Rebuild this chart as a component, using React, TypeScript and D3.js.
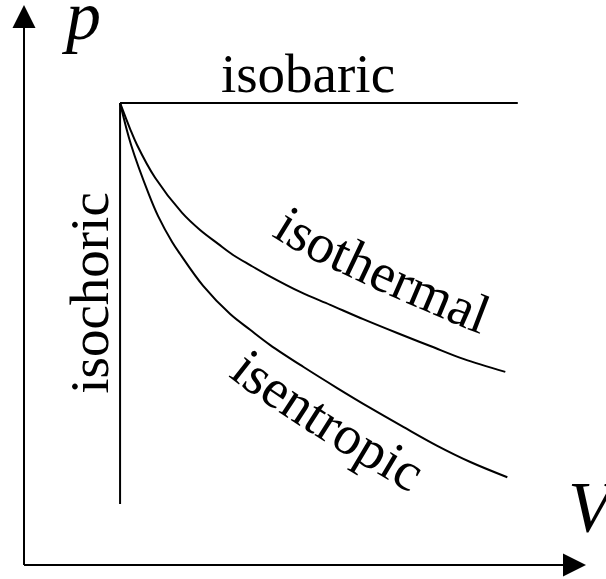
import React, { useEffect, useRef } from "react";
import * as d3 from "d3";

const WIDTH = 606;
const HEIGHT = 579;

// Volume / pressure samples (arbitrary units) along the two expansion curves
const isothermalV = [1.0, 1.104, 1.177, 1.365, 1.646, 1.833, 2.021, 2.177, 2.354, 2.531, 2.875, 3.188, 3.531, 3.885, 4.229, 4.573, 5.01];
const isothermalP = [10.0, 9.44, 9.09, 8.38, 7.62, 7.25, 6.95, 6.71, 6.49, 6.28, 5.91, 5.63, 5.32, 5.02, 4.74, 4.46, 4.18];
const isentropicV = [1.0, 1.115, 1.302, 1.396, 1.542, 1.625, 1.865, 2.146, 2.354, 2.563, 2.906, 3.26, 3.604, 3.948, 4.302, 4.646, 5.031];
const isentropicP = [10.0, 9.09, 8.01, 7.55, 6.99, 6.73, 6.04, 5.43, 5.09, 4.76, 4.29, 3.83, 3.4, 2.99, 2.58, 2.23, 1.9];

// Shared initial state and the ends of the straight processes
const startV = 1.0;
const startP = 10.0;
const isobaricEndV = 5.14;
const isochoricEndP = 1.32;

// Axis extents (arrow tips)
const axisMaxV = 5.85;
const axisMaxP = 12.12;

// Labels
const axisLabelP = "p";
const axisLabelV = "V";
const isobaricLabel = "isobaric";
const isochoricLabel = "isochoric";
const isothermalLabel = "isothermal";
const isentropicLabel = "isentropic";

const SERIF = '"Liberation Serif", "Times New Roman", Times, serif';

export default function App() {
  const ref = useRef<SVGSVGElement>(null);

  useEffect(() => {
    const svg = d3.select(ref.current);
    svg.selectAll("*").remove();

    const x = d3.scaleLinear().domain([0, axisMaxV]).range([24, 586]);
    const y = d3.scaleLinear().domain([0, axisMaxP]).range([565, 5]);

    const defs = svg.append("defs");
    const stroke = "#000";
    const sw = 2;

    // ---- axes with arrowheads ----
    const ax0 = x(0);
    const ay0 = y(0);
    const arrowLen = 23;
    const arrowHalf = 11.5;

    svg.append("line")
      .attr("x1", ax0).attr("y1", ay0)
      .attr("x2", ax0).attr("y2", y(axisMaxP) + arrowLen - 1)
      .attr("stroke", stroke).attr("stroke-width", sw);
    svg.append("path")
      .attr("d", `M${ax0},${y(axisMaxP)} L${ax0 - arrowHalf},${y(axisMaxP) + arrowLen} L${ax0 + arrowHalf},${y(axisMaxP) + arrowLen} Z`)
      .attr("fill", stroke);

    svg.append("line")
      .attr("x1", ax0).attr("y1", ay0)
      .attr("x2", x(axisMaxV) - arrowLen + 1).attr("y2", ay0)
      .attr("stroke", stroke).attr("stroke-width", sw);
    svg.append("path")
      .attr("d", `M${x(axisMaxV)},${ay0} L${x(axisMaxV) - arrowLen},${ay0 - arrowHalf} L${x(axisMaxV) - arrowLen},${ay0 + arrowHalf} Z`)
      .attr("fill", stroke);

    // ---- straight processes ----
    svg.append("line")
      .attr("x1", x(startV)).attr("y1", y(startP))
      .attr("x2", x(isobaricEndV)).attr("y2", y(startP))
      .attr("stroke", stroke).attr("stroke-width", sw);
    svg.append("line")
      .attr("x1", x(startV)).attr("y1", y(startP))
      .attr("x2", x(startV)).attr("y2", y(isochoricEndP))
      .attr("stroke", stroke).attr("stroke-width", sw);

    // ---- curved processes ----
    const line = d3.line<[number, number]>()
      .x((d) => x(d[0]))
      .y((d) => y(d[1]))
      .curve(d3.curveCatmullRom.alpha(0.5));

    const isothermal = isothermalV.map((v, i) => [v, isothermalP[i]] as [number, number]);
    const isentropic = isentropicV.map((v, i) => [v, isentropicP[i]] as [number, number]);

    const isoT = svg.append("path")
      .attr("d", line(isothermal))
      .attr("fill", "none").attr("stroke", stroke).attr("stroke-width", sw);
    const isoS = svg.append("path")
      .attr("d", line(isentropic))
      .attr("fill", "none").attr("stroke", stroke).attr("stroke-width", sw);

    // Baseline running parallel to a curve, from a given x onward.
    // Positive offsets lie below/left of the curve, negative above/right.
    const parallelPath = (node: SVGPathElement, fromX: number, d0: number, d1: number) => {
      const total = node.getTotalLength();
      let lo = 0;
      let hi = total;
      for (let k = 0; k < 40; k++) {
        const mid = (lo + hi) / 2;
        if (node.getPointAtLength(mid).x < fromX) lo = mid;
        else hi = mid;
      }
      const pts: [number, number][] = [];
      for (let L = lo; L <= total; L += 2) {
        const a = node.getPointAtLength(Math.max(0, L - 1.5));
        const b = node.getPointAtLength(Math.min(total, L + 1.5));
        const tx = b.x - a.x;
        const ty = b.y - a.y;
        const len = Math.hypot(tx, ty) || 1;
        const nx = -ty / len;
        const ny = tx / len;
        const f = (L - lo) / (total - lo);
        const d = d0 + (d1 - d0) * f;
        const p = node.getPointAtLength(L);
        pts.push([p.x + nx * d, p.y + ny * d]);
      }
      return d3.line().curve(d3.curveBasis)(pts) as string;
    };

    defs.append("path")
      .attr("id", "isothermal-label-path")
      .attr("d", parallelPath(isoT.node() as SVGPathElement, x(2.38), -36, -28));
    defs.append("path")
      .attr("id", "isentropic-label-path")
      .attr("d", parallelPath(isoS.node() as SVGPathElement, x(2.44), 50, 56));

    const labelSize = 55;

    svg.append("text")
      .attr("font-family", SERIF).attr("font-size", labelSize)
      .append("textPath")
      .attr("href", "#isothermal-label-path")
      .text(isothermalLabel);

    svg.append("text")
      .attr("font-family", SERIF).attr("font-size", labelSize)
      .append("textPath")
      .attr("href", "#isentropic-label-path")
      .text(isentropicLabel);

    svg.append("text")
      .attr("x", 308)
      .attr("y", 92)
      .attr("text-anchor", "middle")
      .attr("font-family", SERIF).attr("font-size", labelSize)
      .text(isobaricLabel);

    svg.append("text")
      .attr("transform", `translate(108, 293) rotate(-90)`)
      .attr("text-anchor", "middle")
      .attr("font-family", SERIF).attr("font-size", labelSize)
      .text(isochoricLabel);

    // ---- axis symbols ----
    svg.append("text")
      .attr("x", 66).attr("y", 39)
      .attr("font-family", SERIF).attr("font-style", "italic").attr("font-size", 70)
      .text(axisLabelP);
    svg.append("text")
      .attr("x", 568).attr("y", 531)
      .attr("font-family", SERIF).attr("font-style", "italic").attr("font-size", 72)
      .text(axisLabelV);
  }, []);

  return (
    <svg
      ref={ref}
      width={WIDTH}
      height={HEIGHT}
      style={{ position: "absolute", left: 0, top: 0, background: "#fff" }}
    />
  );
}
